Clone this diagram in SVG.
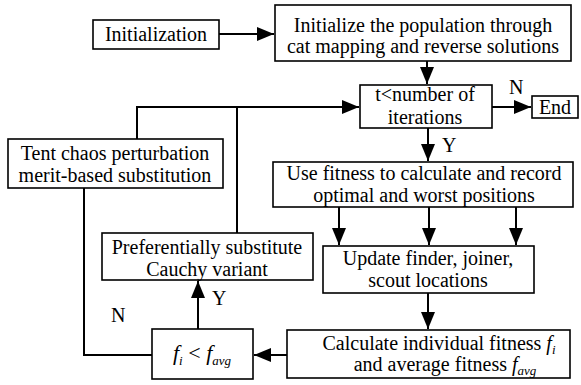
<svg xmlns="http://www.w3.org/2000/svg" width="581" height="385" viewBox="0 0 581 385">
<style>
.box{fill:#fff;stroke:#000;stroke-width:1.6}
.t{font-family:"Liberation Serif","Times New Roman",serif;font-size:20px;fill:#000;text-anchor:middle}
.lbl{font-family:"Liberation Serif","Times New Roman",serif;font-size:20px;fill:#000}
.it{font-style:italic}
.sub{font-size:13px;font-style:italic}
.c{fill:none;stroke:#000;stroke-width:2}
</style>
<defs>
<marker id="ah" markerUnits="userSpaceOnUse" markerWidth="18" markerHeight="14" refX="17" refY="7" orient="auto">
<path d="M0,0 L17,7 L0,14 z" fill="#000"/>
</marker>
</defs>
<rect width="581" height="385" fill="#fff"/>
<g id="connectors">
<path class="c" d="M219,34 H274" marker-end="url(#ah)"/>
<path class="c" d="M427,61 V84" marker-end="url(#ah)"/>
<path class="c" d="M492,107 H531" marker-end="url(#ah)"/>
<path class="c" d="M428,128 V161" marker-end="url(#ah)"/>
<path class="c" d="M339,207 V245" marker-end="url(#ah)"/>
<path class="c" d="M429,207 V245" marker-end="url(#ah)"/>
<path class="c" d="M516,207 V245" marker-end="url(#ah)"/>
<path class="c" d="M428,293 V329" marker-end="url(#ah)"/>
<path class="c" d="M287,355 H254" marker-end="url(#ah)"/>
<path class="c" d="M198,329 V281" marker-end="url(#ah)"/>
<path class="c" d="M152,355 H84 V188"/>
<path class="c" d="M137,139 V107 H359" marker-end="url(#ah)"/>
<path class="c" d="M237,233 V107"/>
</g>
<g id="n-init">
<rect class="box" x="93" y="20" width="126" height="29"/>
<text class="t" x="156" y="41">Initialization</text>
</g>
<g id="n-initpop">
<rect class="box" x="275" y="5" width="296" height="56"/>
<text class="t" x="423" y="32">Initialize the population through</text>
<text class="t" x="423" y="53">cat mapping and reverse solutions</text>
</g>
<g id="n-cond">
<rect class="box" x="360" y="85" width="132" height="43"/>
<text class="t" x="425" y="101">t&lt;number of</text>
<text class="t" x="425" y="124">iterations</text>
</g>
<g id="n-end">
<rect class="box" x="532" y="96" width="46" height="22"/>
<text class="t" x="555" y="114">End</text>
</g>
<g id="n-fit">
<rect class="box" x="273" y="162" width="300" height="45"/>
<text class="t" x="424" y="180">Use fitness to calculate and record</text>
<text class="t" x="424" y="202">optimal and worst positions</text>
</g>
<g id="n-update">
<rect class="box" x="323" y="246" width="211" height="47"/>
<text class="t" x="428" y="265">Update finder, joiner,</text>
<text class="t" x="428" y="287">scout locations</text>
</g>
<g id="n-calc">
<rect class="box" x="287" y="330" width="283" height="48"/>
<text class="t" x="439" y="350">Calculate individual fitness <tspan class="it">f</tspan><tspan class="sub" dy="4">i</tspan></text>
<text class="t" x="445" y="371">and average fitness <tspan class="it">f</tspan><tspan class="sub" dy="4">avg</tspan></text>
</g>
<g id="n-cmp">
<rect class="box" x="152" y="329" width="101" height="50"/>
<text class="t" x="202" y="360"><tspan class="it" font-size="22">f</tspan><tspan class="sub" font-size="14" dy="5">i</tspan><tspan dy="-5" font-size="22"> &lt; </tspan><tspan class="it" font-size="22">f</tspan><tspan class="sub" font-size="14" dy="5">avg</tspan></text>
</g>
<g id="n-pref">
<rect class="box" x="102" y="233" width="211" height="47"/>
<text class="t" x="207" y="254">Preferentially substitute</text>
<text class="t" x="207" y="276">Cauchy variant</text>
</g>
<g id="n-tent">
<rect class="box" x="8" y="139" width="215" height="49"/>
<text class="t" x="115" y="160">Tent chaos perturbation</text>
<text class="t" x="115" y="182">merit-based substitution</text>
</g>
<g id="labels">
<text class="lbl" x="509" y="94">N</text>
<text class="lbl" x="442" y="152">Y</text>
<text class="lbl" x="212" y="305">Y</text>
<text class="lbl" x="111" y="322">N</text>
</g>
</svg>
